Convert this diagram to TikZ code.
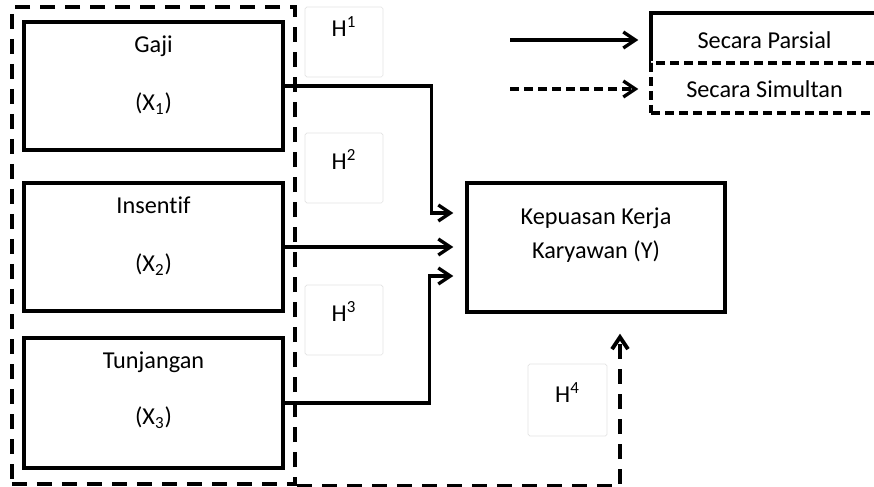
\documentclass[tikz,border=0pt]{standalone}
\usepackage{fontspec}
\setmainfont{Carlito}[Ligatures=NoCommon]
\usepackage{tikz}
\usetikzlibrary{arrows.meta, positioning, calc}
\definecolor{garis}{HTML}{000000}
\definecolor{abu}{HTML}{E2E2E2}
\tikzset{
  kotak/.style={rectangle, draw=garis, line width=1.9pt, minimum width=51.8mm,
    minimum height=25.6mm, inner sep=0pt},
  kotakY/.style={kotak, minimum width=51.6mm, minimum height=25.8mm},
  kotakH/.style={rectangle, rounded corners=1pt, draw=abu, line width=0.4pt,
    minimum width=15.6mm, minimum height=14mm, inner sep=0pt},
  legenda/.style={rectangle, draw=garis, line width=1.9pt, minimum width=45.4mm,
    minimum height=10mm, inner sep=0pt},
  teks/.style={font=\fontsize{13.8}{16}\selectfont, align=center, inner sep=0pt},
  kelompok/.style={rectangle, draw=garis, line width=2.2pt,
    dash pattern=on 3mm off 2mm, inner sep=0pt},
  panah/.style={-{Straight Barb[length=2.4mm, width=3.2mm]}, line width=1.9pt, color=garis},
  panahputus/.style={panah, line width=2.2pt, dash pattern=on 3mm off 2mm},
  putuskecil/.style={dash pattern=on 1.8mm off 1mm}
}

\begin{document}
\begin{tikzpicture}[x=0.2mm, y=-0.2mm]
    \useasboundingbox (0,0) rectangle (874,487);

    \node[kelompok, minimum width=56.6mm, minimum height=95.4mm] (grup) at (153.5,245.5) {};

    \node[kotak] (gaji) at (153.5,86) {};
    \node[kotak] (insentif) at (153.5,247) {};
    \node[kotak, minimum height=26mm] (tunjangan) at (153.5,403) {};
    \node[kotakY] (kepuasan) at (596,247.5) {};

    \node[teks] (tgaji) at ([yshift=2.2mm]gaji.center) {Gaji\\[5.9mm](X\textsubscript{1})};
    \node[teks] (tinsentif) at ([yshift=2.2mm]insentif.center) {Insentif\\[5.9mm](X\textsubscript{2})};
    \node[teks] (ttunjangan) at ([yshift=2.6mm]tunjangan.center) {Tunjangan\\[5.6mm](X\textsubscript{3})};
    \node[teks] (tkepuasan) at ([yshift=2.5mm]kepuasan.center) {Kepuasan Kerja\\[1.1mm]Karyawan (Y)};

    \node[kotakH] (h1) at (344,42) {};
    \node[kotakH] (h2) at (344,168) {};
    \node[kotakH] (h3) at (344,320) {};
    \node[kotakH, minimum width=15.8mm, minimum height=14.4mm] (h4) at (567.5,400) {};
    \node[teks] (th1) at ([yshift=-4mm]h1.north) {H\textsuperscript{1}};
    \node[teks] (th2) at ([yshift=-5.4mm]h2.north) {H\textsuperscript{2}};
    \node[teks] (th3) at ([yshift=-5.4mm]h3.north) {H\textsuperscript{3}};
    \node[teks] (th4) at ([yshift=-5.8mm]h4.north) {H\textsuperscript{4}};

    \draw[panah] (gaji.east) -- ++(147,0) |- ([xshift=-2.4mm, yshift=6.9mm]kepuasan.west);
    \draw[panah, shorten >=2.4mm] (insentif.east) -- (insentif.east -| kepuasan.west);
    \draw[panah] (tunjangan.east) -- ++(145,0) |- ([xshift=-2.4mm, yshift=-5.7mm]kepuasan.west);
    \draw[panahputus] (grup.south east) -| ([xshift=4.8mm, yshift=-4mm]kepuasan.south);

    \node[legenda] (parsial) at (764.5,38) {};
    \node[legenda, putuskecil, preaction={draw=white, solid}] (simultan) at (764.5,88) {};
    \node[teks] (tparsial) at ([yshift=-0.4mm]parsial.center) {Secara Parsial};
    \node[teks] (tsimultan) at ([yshift=-0.2mm]simultan.center) {Secara Simultan};

    \coordinate (mulaiP) at (510,40);
    \coordinate (mulaiS) at (510,89);
    \draw[panah, shorten >=2.2mm] (mulaiP) -- (mulaiP -| parsial.west);
    \draw[panah, putuskecil, shorten >=2.2mm] (mulaiS) -- (mulaiS -| simultan.west);
  \end{tikzpicture}
\end{document}
